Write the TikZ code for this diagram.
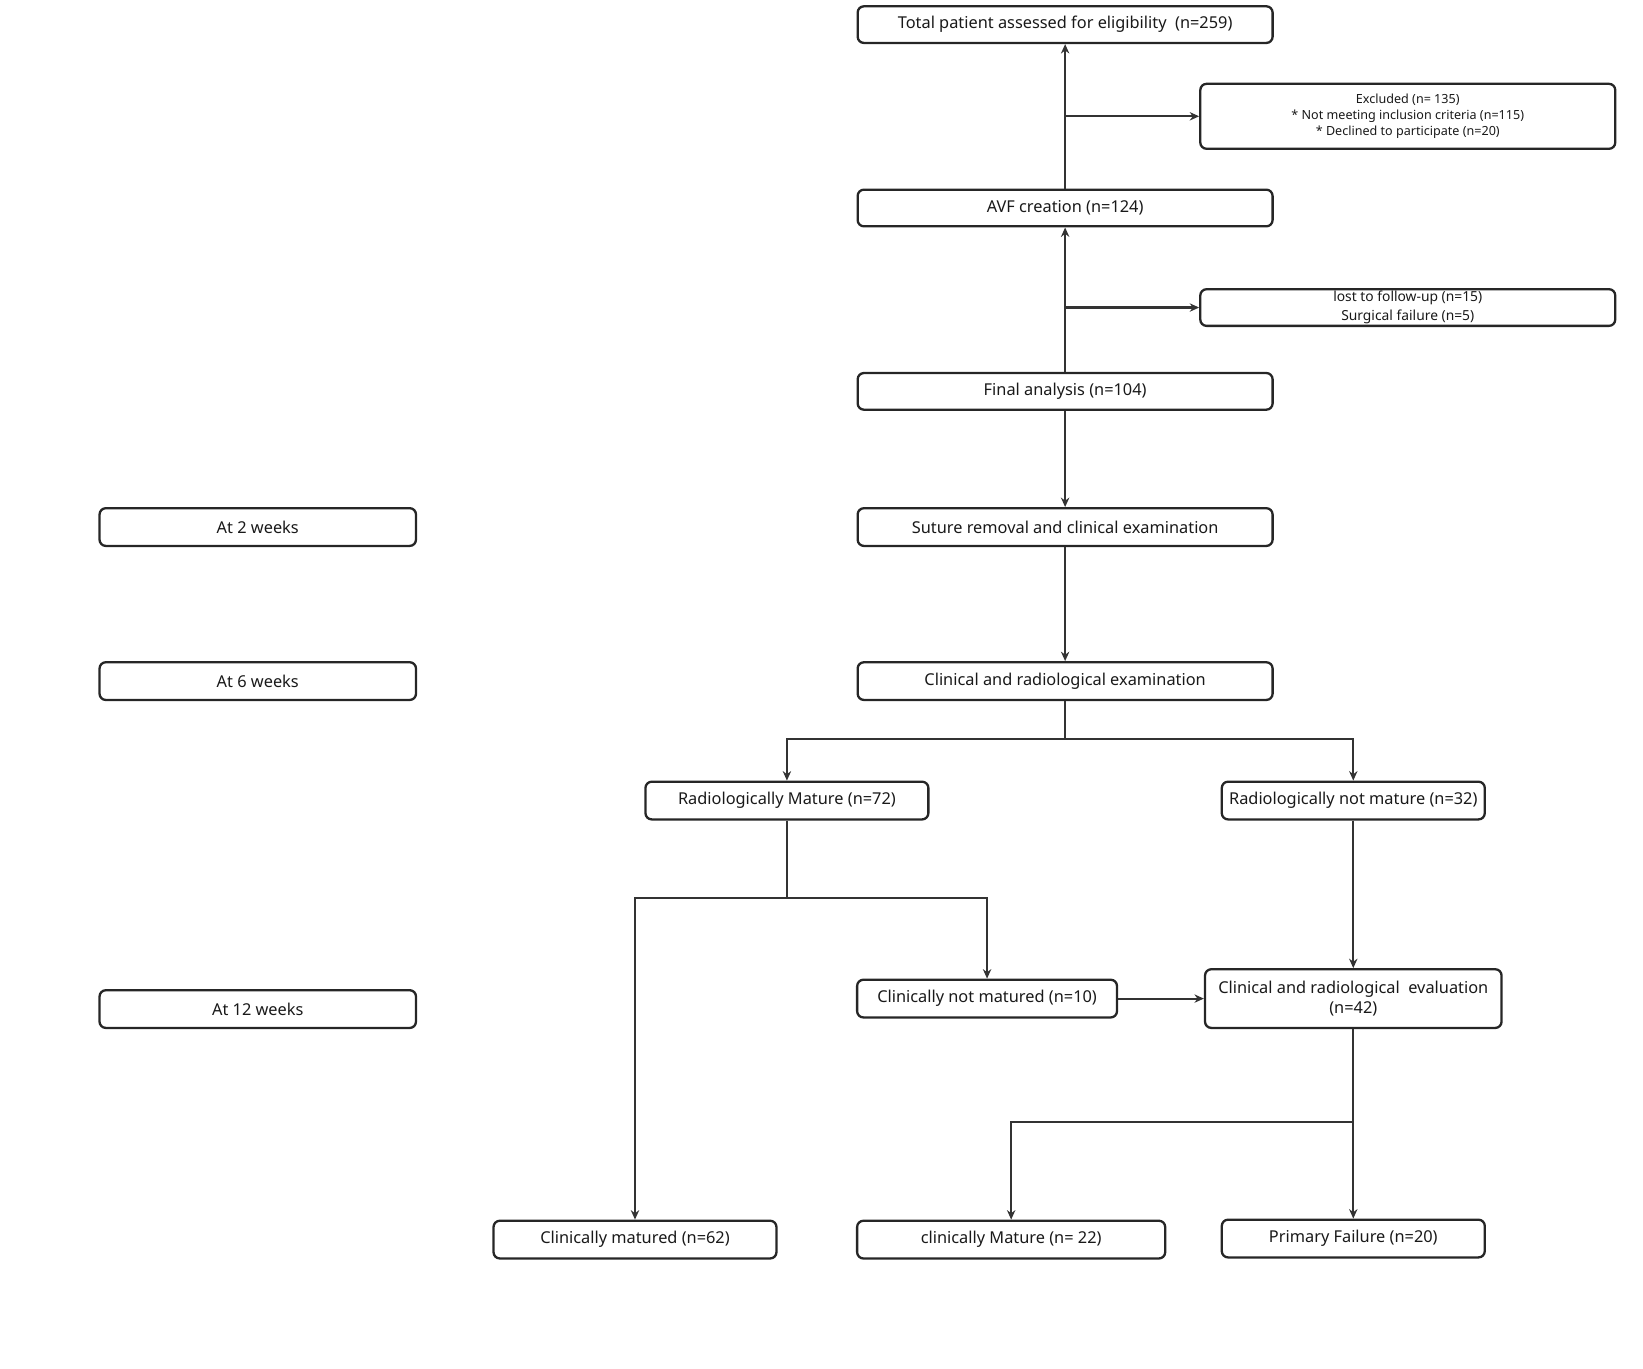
\documentclass[tikz,border=0pt]{standalone}
\usepackage{fontspec}
\setmainfont{Noto Sans}
\usetikzlibrary{arrows.meta}
\begin{document}
\begin{tikzpicture}[x=0.5pt,y=-0.5pt,
  bx/.style={draw=black!85,line width=1.1pt,rounded corners=3pt,inner sep=0pt,align=center,font=\bfseries\fontsize{7.8}{10}\selectfont,text=black!90},
  ar/.style={draw=black!80,line width=1pt,-{Stealth[length=4.5pt,width=4pt]}},
  ln/.style={draw=black!80,line width=1pt}]
\useasboundingbox (0,0) rectangle (1568,1306);
\newcommand{\bxat}[6]{\node[bx,minimum width=#3*0.5pt-1pt,minimum height=#4*0.5pt-1pt] (#5) at ({(#1+#3)/2},{(#2+#4)/2}) {#6};}
\node[bx,minimum width=198pt,minimum height=17.5pt] (tot) at (1016.5,23.5) {Total patient assessed for eligibility~~(n=259)};
\node[bx,minimum width=198pt,minimum height=31pt,font=\bfseries\fontsize{6}{7.8}\selectfont] (exc) at (1343.5,111) {Excluded (n= 135)\\* Not meeting inclusion criteria (n=115)\\* Declined to participate (n=20)};
\node[bx,minimum width=198pt,minimum height=17.5pt] (avf) at (1016.5,198.5) {AVF creation (n=124)};
\node[bx,minimum width=198pt,minimum height=17.5pt,font=\bfseries\fontsize{6.6}{9}\selectfont] (lost) at (1343.5,293.5) {lost to follow-up (n=15)\\Surgical failure (n=5)};
\node[bx,minimum width=198pt,minimum height=17.5pt] (fin) at (1016.5,373.5) {Final analysis (n=104)};
\node[bx,minimum width=198pt,minimum height=18pt] (sut) at (1016.5,503) {Suture removal and clinical examination};
\node[bx,minimum width=151pt,minimum height=18pt] (w2) at (246,503) {At 2 weeks};
\node[bx,minimum width=198pt,minimum height=18pt] (cre) at (1016.5,650) {Clinical and radiological examination};
\node[bx,minimum width=151pt,minimum height=18pt] (w6) at (246,650) {At 6 weeks};
\node[bx,minimum width=135pt,minimum height=18pt] (rm) at (751,764) {Radiologically Mature (n=72)};
\node[bx,minimum width=125.5pt,minimum height=18pt] (rnm) at (1291.5,764) {Radiologically not mature (n=32)};
\node[bx,minimum width=124pt,minimum height=18pt] (cnm) at (942,953) {Clinically not matured (n=10)};
\node[bx,minimum width=141.5pt,minimum height=28pt] (cre2) at (1291.5,953) {Clinical and radiological~~evaluation\\(n=42)};
\node[bx,minimum width=151pt,minimum height=18pt] (w12) at (246,963) {At 12 weeks};
\node[bx,minimum width=135pt,minimum height=18pt] (cm) at (606,1183) {Clinically matured (n=62)};
\node[bx,minimum width=147pt,minimum height=18pt] (cm2) at (965,1183) {clinically Mature (n= 22)};
\node[bx,minimum width=125.5pt,minimum height=18pt] (pf) at (1291.5,1182) {Primary Failure (n=20)};
\draw[ar] (avf.north) -- (tot.south);
\coordinate (b1) at (1016.5,111);
\draw[ar] (b1) -- (exc.west);
\draw[ar] (fin.north) -- (avf.south);
\coordinate (b2) at (1016.5,293.5);
\draw[ar] (b2) -- (lost.west);
\draw[ar] (fin) -- (sut);
\draw[ar] (sut) -- (cre);
\coordinate (b3) at (1016.5,705);
\draw[ln] (cre.south) -- (b3);
\draw[ar] (b3) -| (rm.north);
\draw[ar] (b3) -| (rnm.north);
\coordinate (b4) at (751,857);
\draw[ln] (rm.south) -- (b4);
\draw[ar] (b4) -| (cm.north);
\draw[ar] (b4) -| (cnm.north);
\draw[ar] (cnm) -- (cre2);
\draw[ar] (rnm) -- (cre2);
\coordinate (b5) at (1291.5,1071);
\draw[ar] (cre2.south) -- (pf.north);
\draw[ar] (b5) -| (cm2.north);
\end{tikzpicture}
\end{document}
